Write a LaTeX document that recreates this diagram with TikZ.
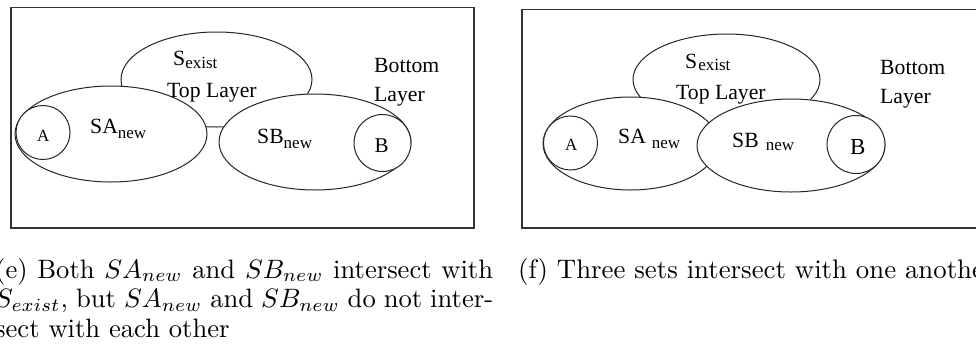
\documentclass[tikz,border=0pt]{standalone}
\IfFileExists{fix-cm.sty}{\usepackage{fix-cm}}{}
\usepackage{fontspec}
\newfontfamily\tms{Liberation Serif}
\newcommand\lblsub[2][-4pt]{\raisebox{#1}{\fontsize{17}{17}\selectfont #2}}
\tikzset{
  panelframe/.style={draw=black!80, line width=1.3pt},
  setline/.style={draw=black!85, line width=1pt, fill=white},
  lbl/.style={anchor=base west, inner sep=0pt, font=\tms\fontsize{21.7}{24}\selectfont},
  captxt/.style={inner sep=0pt, anchor=base west, font=\fontsize{10}{11.1}\selectfont}
}
\begin{document}
\begin{tikzpicture}[x=1pt,y=-1pt]
\useasboundingbox (0,0) rectangle (976,346);
\clip (0,0) rectangle (976,346);
% ---------- left panel (e) ----------
\draw[panelframe] (11,7.5) rectangle (474,228);
\draw[setline] (216.5,79.5) ellipse [x radius=95.5pt, y radius=47.5pt];
\draw[setline] (111,134) ellipse [x radius=96pt, y radius=48pt];
\draw[setline] (315,142) ellipse [x radius=96pt, y radius=48pt];
\draw[setline] (43,132.5) circle [radius=27pt];
\draw[setline] (382.5,143) circle [radius=28.5pt];
\node[lbl] (eSexist) at (173,65) {S\lblsub[-3pt]{exist}};
\node[lbl] (eTop) at (167,97) {Top Layer};
\node[lbl] (eBottom) at (374,72) {Bottom};
\node[lbl] (eLayer) at (374,101) {Layer};
\node[lbl] (eSA) at (90,133) {SA\lblsub[-5pt]{new}};
\node[lbl] (eSB) at (257,143) {SB\lblsub[-5pt]{new}};
\node[lbl, font=\tms\fontsize{17}{20}\selectfont] (eA) at (37,141) {A};
\node[lbl, font=\tms\fontsize{21}{24}\selectfont] (eB) at (374.5,152) {B};
% ---------- right panel (f) ----------
\draw[panelframe] (522,9.5) rectangle (990,228);
\draw[setline] (726.5,79.5) ellipse [x radius=93.5pt, y radius=45.5pt];
\draw[setline] (630.5,143.5) ellipse [x radius=87.5pt, y radius=46.5pt];
\draw[setline] (791,145.5) ellipse [x radius=94pt, y radius=46.5pt];
\draw[setline] (570.5,143) circle [radius=27pt];
\draw[setline] (856,144.5) circle [radius=29pt];
\node[lbl] (fSexist) at (685,68) {S\hspace{1pt}\lblsub[-2pt]{exist}};
\node[lbl] (fTop) at (676,99) {Top Layer};
\node[lbl] (fBottom) at (880,74) {Bottom};
\node[lbl] (fLayer) at (880,103) {Layer};
\node[lbl] (fSA) at (618,143) {SA\hspace{6pt}\lblsub[-5pt]{new}};
\node[lbl] (fSB) at (732,147) {SB\hspace{7pt}\lblsub[-3pt]{new}};
\node[lbl, font=\tms\fontsize{17}{20}\selectfont] (fA) at (565,150) {A};
\node[lbl, font=\tms\fontsize{23}{26}\selectfont] (fB) at (850,154) {B};
% ---------- captions ----------
\node[captxt] (capE) at (-5,278)
  {\scalebox{2.66}{\parbox[t]{187.2pt}{\fontsize{10}{11.1}\selectfont
   (e) Both $SA_{new}$ and $SB_{new}$ intersect with\linebreak
   $S_{exist}$, but $SA_{new}$ and $SB_{new}$ do not inter-\linebreak
   sect with each other}}};
\node[captxt] (capF) at (518,278)
  {\scalebox{2.68}{(f) Three sets intersect with one another}};
\end{tikzpicture}
\end{document}
